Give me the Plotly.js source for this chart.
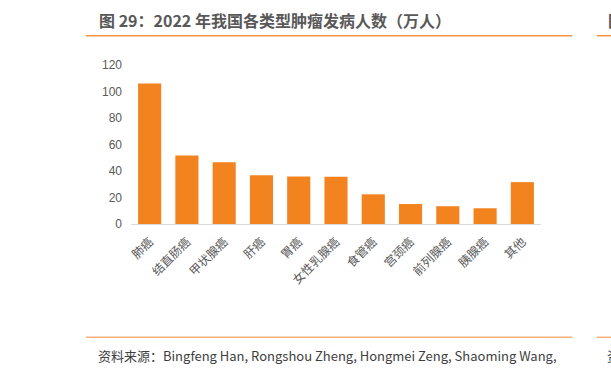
<!DOCTYPE html>
<html>
<head>
<meta charset="utf-8">
<script src="https://cdn.plot.ly/plotly-3.0.1.min.js"></script>
<style>html,body{margin:0;padding:0;background:#fff;}#chart{width:611px;height:374px;}</style>
</head>
<body>
<div id="chart"></div>
<script>
const categories = ["肺癌","结直肠癌","甲状腺癌","肝癌","胃癌","女性乳腺癌","食管癌","宫颈癌","前列腺癌","胰腺癌","其他"];
const cases = [106.06, 51.71, 46.61, 36.77, 35.87, 35.72, 22.40, 15.07, 13.42, 11.87, 31.6];
const yTicks = [0, 20, 40, 60, 80, 100, 120];
const titleText = "图 29：2022 年我国各类型肿瘤发病人数（万人）";
const sourceText = "资料来源：Bingfeng Han, Rongshou Zheng, Hongmei Zeng, Shaoming Wang,";

const L = 131, R = 541, T = 65, B = 224;
const px = x => (x - L) / (R - L);
const py = y => (B - y) / (B - T);
const cjk = '"Noto Sans CJK SC", "Liberation Sans", sans-serif';

const lineTop = '#f39443', lineBot = '#f6b07a';
const shapes = [
  {type:'line', xref:'paper', yref:'paper', x0:px(86), x1:px(572.3), y0:py(35.7), y1:py(35.7), line:{color:lineTop, width:1.5}},
  {type:'line', xref:'paper', yref:'paper', x0:px(596.7), x1:px(620), y0:py(35.7), y1:py(35.7), line:{color:lineTop, width:1.5}},
  {type:'line', xref:'paper', yref:'paper', x0:px(86), x1:px(572.3), y0:py(337.3), y1:py(337.3), line:{color:lineBot, width:1.5}},
  {type:'line', xref:'paper', yref:'paper', x0:px(596.7), x1:px(620), y0:py(337.3), y1:py(337.3), line:{color:lineBot, width:1.5}}
];

const annotations = [
  {xref:'paper', yref:'paper', x:px(97), y:py(20.5), xanchor:'left', yanchor:'middle', showarrow:false,
   text:titleText, font:{family:cjk, size:16, color:'#585858', weight:600}},
  {xref:'paper', yref:'paper', x:px(606), y:py(20.5), xanchor:'left', yanchor:'middle', showarrow:false,
   text:'图 30', font:{family:cjk, size:16, color:'#585858', weight:600}},
  {xref:'paper', yref:'paper', x:px(96), y:py(355), xanchor:'left', yanchor:'middle', showarrow:false,
   text:sourceText, font:{family:cjk, size:13, color:'#404040'}},
  {xref:'paper', yref:'paper', x:px(605), y:py(355), xanchor:'left', yanchor:'middle', showarrow:false,
   text:'资料', font:{family:cjk, size:13, color:'#404040'}}
];

Plotly.newPlot('chart', [{
  type:'bar', x:categories, y:cases,
  marker:{color:'#f3831f'}, hoverinfo:'none'
}], {
  width:611, height:374,
  margin:{l:L, r:611-R, t:T, b:374-B, pad:0},
  paper_bgcolor:'#fff', plot_bgcolor:'#fff',
  showlegend:false,
  bargap:0.38,
  xaxis:{type:'category', showgrid:false, zeroline:false, showline:true, linecolor:'#d9d9d9', linewidth:1,
         ticks:'', tickangle:-45, ticklabelstandoff:5, tickfont:{family:cjk, size:12, color:'#595959'}, fixedrange:true},
  yaxis:{range:[0,120], tickvals:yTicks, ticktext:yTicks.map(String), showgrid:false, zeroline:false, showline:false,
         ticks:'', ticklabelstandoff:8, tickfont:{family:'"Liberation Sans", Arial, sans-serif', size:12, color:'#595959'}, fixedrange:true},
  shapes:shapes, annotations:annotations
}, {staticPlot:true});
</script>
</body>
</html>
